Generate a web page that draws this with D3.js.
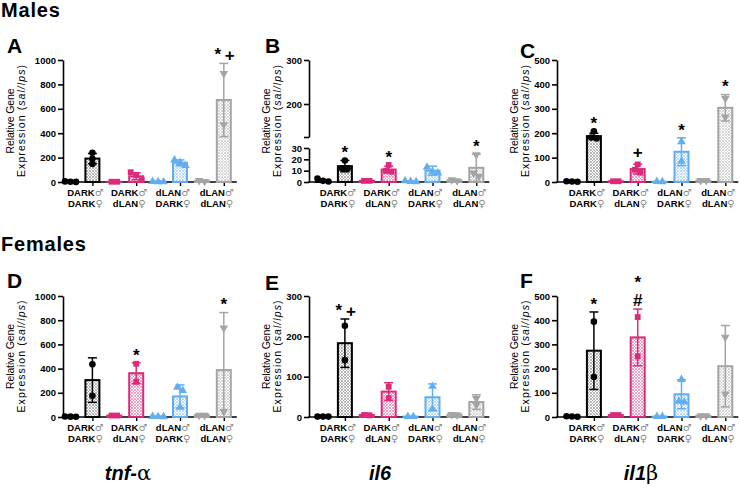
<!DOCTYPE html>
<html><head><meta charset="utf-8">
<script src="https://cdn.jsdelivr.net/npm/d3@7"></script>
<style>body{margin:0;background:#fff} svg{display:block} text{font-family:"Liberation Sans",Arial,sans-serif}</style>
</head><body><svg id="c" width="740" height="489"></svg>
<script>
// ---------- DATA ----------
const groupTop = ["DARK♂","DARK♂","dLAN♂","dLAN♂"];
const groupBottom = ["DARK♀","dLAN♀","DARK♀","dLAN♀"];
const treatments = ["sal","lps"];
const genes = ["tnf-","il6","il1"];
const geneGreek = ["α","","β"];
const sexes = ["Males","Females"];
const panelLetters = ["A","B","C","D","E","F"];

// bars order: [DD sal, DD lps, DdL sal, DdL lps, dLD sal, dLD lps, dLdL sal, dLdL lps]
const tnfMaleMean = [3, 192, 2, 47, 3, 157, 10, 672];
const tnfMaleSD   = [3, 42, 2, 28, 3, 24, 8, 300];
const tnfMalePts  = [[2,5,1],[240,190,148],[2,2],[80,55,15],[4,2,1],[180,160,135],[12,5],[890,470]];
const tnfMaleSig  = [[7,"*","+"]];

const il6MaleMean = [1, 14, 1, 11, 0.5, 10, 1.5, 12.5];
const il6MaleSD   = [1, 5, 0.5, 3, 0.5, 4, 1, 12];
const il6MalePts  = [[0.5,1,3],[19,12,12],[1,1],[15,10,9],[0.5,0.3,1],[13,9,8],[2,1],[24,8,5]];
const il6MaleSig  = [[1,"*"],[3,"*"],[7,"*"]];

const il1bMaleMean = [2, 188, 3, 53, 1, 124, 6, 304];
const il1bMaleSD   = [2, 12, 2, 20, 1, 57, 3, 54];
const il1bMalePts  = [[2,1,3],[208,182,178],[3,3],[72,50,38],[1,2],[165,85],[6,6],[342,266]];
const il1bMaleSig  = [[1,"*"],[3,"+"],[5,"*"],[7,"*"]];

const tnfFemaleMean = [3, 305, 12, 362, 3, 170, 15, 388];
const tnfFemaleSD   = [3, 184, 6, 85, 3, 95, 12, 475];
const tnfFemalePts  = [[2,3,4],[435,175],[12,12],[440,290],[3,2,5],[245,218,80],[15,15],[735,45]];
const tnfFemaleSig  = [[3,"*"],[7,"*"]];

const il6FemaleMean = [1, 183, 5, 63, 1, 49, 6, 37];
const il6FemaleSD   = [1, 60, 4, 22, 1, 33, 4, 18];
const il6FemalePts  = [[1,1,1],[226,141],[5,4],[75,47],[1,1],[76,20],[6,5],[46,30]];
const il6FemaleSig  = [[1,"*","+"]];

const il1bFemaleMean = [2, 274, 8, 329, 2, 94, 5, 210];
const il1bFemaleSD   = [1, 160, 3, 117, 1, 60, 2, 168];
const il1bFemalePts  = [[1,2,3],[394,165],[8,8],[413,251],[2,2],[155,65,62],[5,5],[330,95]];
const il1bFemaleSig  = [[1,"*"],[3,"*","#"]];

const yTicksTnf = [0,200,400,600,800,1000];
const yTicksIl6MaleLow = [0,10,20,30];
const yTicksIl6MaleHigh = [200,300];
const yTicksIl6Female = [0,100,200,300];
const yTicksIl1b = [0,100,200,300,400,500];

// ---------- LAYOUT ----------
const colAxisX = [63, 309, 557];
const colFirstX = [70.5, 323, 572];
const step = 21.9;
const rowTop = [60, 296], rowBase = [182, 417];
const letterPos = [[7,53],[265,53],[520,58],[7,288],[265,290],[520,288]];
const geneX = [128, 380, 641];
const colors = ["#000000","#dc2a7a","#62aef0","#a4a4a4"];
const FONT = '"Liberation Sans",Arial,sans-serif';

const panels = [
  {row:0,col:0,mean:tnfMaleMean,sd:tnfMaleSD,pts:tnfMalePts,sig:tnfMaleSig,ticks:yTicksTnf,max:1000},
  {row:0,col:1,mean:il6MaleMean,sd:il6MaleSD,pts:il6MalePts,sig:il6MaleSig,broken:true},
  {row:0,col:2,mean:il1bMaleMean,sd:il1bMaleSD,pts:il1bMalePts,sig:il1bMaleSig,ticks:yTicksIl1b,max:500},
  {row:1,col:0,mean:tnfFemaleMean,sd:tnfFemaleSD,pts:tnfFemalePts,sig:tnfFemaleSig,ticks:yTicksTnf,max:1000},
  {row:1,col:1,mean:il6FemaleMean,sd:il6FemaleSD,pts:il6FemalePts,sig:il6FemaleSig,ticks:yTicksIl6Female,max:300},
  {row:1,col:2,mean:il1bFemaleMean,sd:il1bFemaleSD,pts:il1bFemalePts,sig:il1bFemaleSig,ticks:yTicksIl1b,max:500}
];

const svg = d3.select("#c");
const defs = svg.append("defs");
colors.forEach((c,i)=>{
  const p = defs.append("pattern").attr("id","pat"+i).attr("width",3).attr("height",3)
    .attr("patternUnits","userSpaceOnUse");
  p.append("rect").attr("width",3).attr("height",3).attr("fill","#fff");
  p.append("path").attr("d","M0,0L3,3M3,0L0,3").attr("stroke",c)
    .attr("stroke-width",0.8).attr("opacity", i===0?0.35:0.55);
});

// section titles
sexes.forEach((s,i)=>{
  svg.append("text").attr("x",1).attr("y",i===0?17:251).text(s)
    .attr("font-size",20).attr("font-weight","bold").attr("letter-spacing","0.8px").attr("fill","#000");
});

// gene labels
genes.forEach((g,i)=>{
  const t = svg.append("text").attr("x",geneX[i]).attr("y",480).attr("text-anchor","middle")
    .attr("font-size",20).attr("font-weight","bold").attr("font-style","italic").attr("fill","#000");
  t.append("tspan").text(g);
  if (geneGreek[i]) t.append("tspan").text(geneGreek[i]).attr("font-family","'DejaVu Serif',serif")
    .attr("font-weight","normal").attr("font-style","normal").attr("font-size",21);
});

function styleAxis(g){
  g.select(".domain").attr("stroke-width",1.6);
  g.selectAll(".tick line").attr("stroke-width",1.6);
  g.selectAll(".tick text").attr("font-family",FONT).attr("font-size",9.5).attr("font-weight","bold").attr("fill","#000");
}

panels.forEach((P,pi)=>{
  const g = svg.append("g");
  const ax = colAxisX[P.col], top = rowTop[P.row], base = rowBase[P.row];
  const x = d3.scalePoint().domain(d3.range(8)).range([colFirstX[P.col], colFirstX[P.col]+7*step]);
  let y, lowerY, upperY;
  if (P.broken){
    lowerY = d3.scaleLinear().domain([0,30]).range([base, base-34]);
    upperY = d3.scaleLinear().domain([125,300]).range([base-45, top]);
    y = v => v <= 30 ? lowerY(v) : upperY(v);
  } else {
    y = d3.scaleLinear().domain([0,P.max]).range([base, top]);
  }

  // letter
  g.append("text").attr("x",letterPos[pi][0]).attr("y",letterPos[pi][1]).text(panelLetters[pi])
    .attr("font-size",21).attr("font-weight","bold").attr("fill","#000");

  // y label (two lines)
  const cy = (top+base)/2;
  const lx = ax-39 - (P.col===0?10:0);
  const yl1 = g.append("text").attr("transform",`translate(${lx},${cy}) rotate(-90)`)
    .attr("text-anchor","middle").attr("font-size",10.5).attr("fill","#000")
    .attr("textLength",65).attr("lengthAdjust","spacing").text("Relative Gene");
  const yl2 = g.append("text").attr("transform",`translate(${lx+11},${cy}) rotate(-90)`)
    .attr("text-anchor","middle").attr("font-size",10.5).attr("fill","#000")
    .attr("textLength",112).attr("lengthAdjust","spacing");
  yl2.append("tspan").text("Expression (");
  yl2.append("tspan").attr("font-style","italic").text("sal/lps");
  yl2.append("tspan").text(")");

  // y axis
  if (P.broken){
    const a1 = g.append("g").attr("transform",`translate(${ax},0)`)
      .call(d3.axisLeft(lowerY).tickValues(yTicksIl6MaleLow).tickSize(5).tickSizeOuter(0).tickPadding(2).tickFormat(d3.format("d")));
    styleAxis(a1);
    const a2 = g.append("g").attr("transform",`translate(${ax},0)`)
      .call(d3.axisLeft(upperY).tickValues([125].concat(yTicksIl6MaleHigh)).tickSize(5).tickSizeOuter(0).tickPadding(2)
        .tickFormat(d=> d===125 ? "" : d3.format("d")(d)));
    styleAxis(a2);
  } else {
    const a = g.append("g").attr("transform",`translate(${ax},0)`)
      .call(d3.axisLeft(y).tickValues(P.ticks).tickSize(5).tickSizeOuter(0).tickPadding(2).tickFormat(d3.format("d")));
    styleAxis(a);
  }

  // x axis line + ticks at lps
  const xEnd = Math.min(740, x(7)+13);
  g.append("line").attr("x1",ax-0.8).attr("x2",xEnd).attr("y1",base).attr("y2",base)
    .attr("stroke","#000").attr("stroke-width",1.6);
  const xa = g.append("g").attr("transform",`translate(0,${base})`)
    .call(d3.axisBottom(x).tickValues([1,3,5,7]).tickSize(4).tickFormat(""));
  xa.select(".domain").remove();
  xa.selectAll(".tick line").attr("stroke-width",1.4);

  // x labels
  for (let k=0;k<4;k++){
    const cx = x(2*k+1) - 7;
    [groupTop[k], groupBottom[k]].forEach((lab,li)=>{
      const t = g.append("text").attr("x",cx).attr("y",base+14+li*11).attr("text-anchor","middle")
        .attr("font-size",9.5).attr("font-weight","bold").attr("fill","#000");
      t.append("tspan").text(lab.slice(0,-1));
      t.append("tspan").text(lab.slice(-1)).attr("font-family","'DejaVu Sans',sans-serif")
        .attr("font-weight","normal").attr("font-size",10).attr("fill","#8a8a8a");
    });
  }

  // bars
  P.mean.forEach((m,i)=>{
    const gi = Math.floor(i/2), c = colors[gi];
    const cx = x(i), bw = 14;
    const yT = y(m);
    g.append("rect").attr("x",cx-bw/2).attr("y",yT).attr("width",bw).attr("height",Math.max(0,y(0)-yT))
      .attr("fill",`url(#pat${gi})`).attr("stroke",c).attr("stroke-width",2);
  });
  // error bars
  P.mean.forEach((m,i)=>{
    const gi = Math.floor(i/2), c = colors[gi], cx = x(i);
    const hi = y(m+P.sd[i]), lo = y(Math.max(0,m-P.sd[i]));
    g.append("line").attr("x1",cx).attr("x2",cx).attr("y1",hi).attr("y2",lo).attr("stroke",c).attr("stroke-width",1.5);
    g.append("line").attr("x1",cx-4.5).attr("x2",cx+4.5).attr("y1",hi).attr("y2",hi).attr("stroke",c).attr("stroke-width",1.5);
    if (m-P.sd[i] > 0)
      g.append("line").attr("x1",cx-4.5).attr("x2",cx+4.5).attr("y1",lo).attr("y2",lo).attr("stroke",c).attr("stroke-width",1.5);
  });
  // points
  const shapes = [d3.symbolCircle, d3.symbolSquare, d3.symbolTriangle, d3.symbolTriangle];
  const sizes = [34, 34, 32, 32];
  P.pts.forEach((arr,i)=>{
    const gi = Math.floor(i/2), c = colors[gi], cx = x(i);
    const ys = arr.map(v=>y(v)).sort((a,b)=>a-b);
    const clusters = [];
    ys.forEach(v=>{
      const last = clusters[clusters.length-1];
      if (last && Math.abs(v - last[last.length-1]) < 5) last.push(v); else clusters.push([v]);
    });
    clusters.forEach(cl=>{
      cl.forEach((v,j)=>{
        const dx = (j-(cl.length-1)/2)*5.5;
        g.append("path").attr("d",d3.symbol().type(shapes[gi]).size(sizes[gi])())
          .attr("transform",`translate(${cx+dx},${v})${gi===3?" rotate(180)":""}`)
          .attr("fill",c);
      });
    });
  });

  // significance marks
  const sym = {"*":9.8, "+":6, "#":6};
  P.sig.forEach(s=>{
    const i = s[0], cx = x(i);
    const topY = Math.min(y(P.mean[i]+P.sd[i]), d3.min(P.pts[i], v=>y(v)));
    const place = (ch, px, centerY) => g.append("text").attr("x",px).attr("y",centerY+sym[ch])
      .attr("text-anchor","middle").attr("font-size",17).attr("font-weight","bold").attr("fill","#000").text(ch);
    if (s.length===2) place(s[1], cx, topY-12);
    else if (s[2]==="#"){ place(s[2], cx, topY-9); place(s[1], cx, topY-31); }
    else { place(s[1], cx-6, topY-13); place(s[2], cx+6, topY-8); }
  });
});
</script></body></html>
